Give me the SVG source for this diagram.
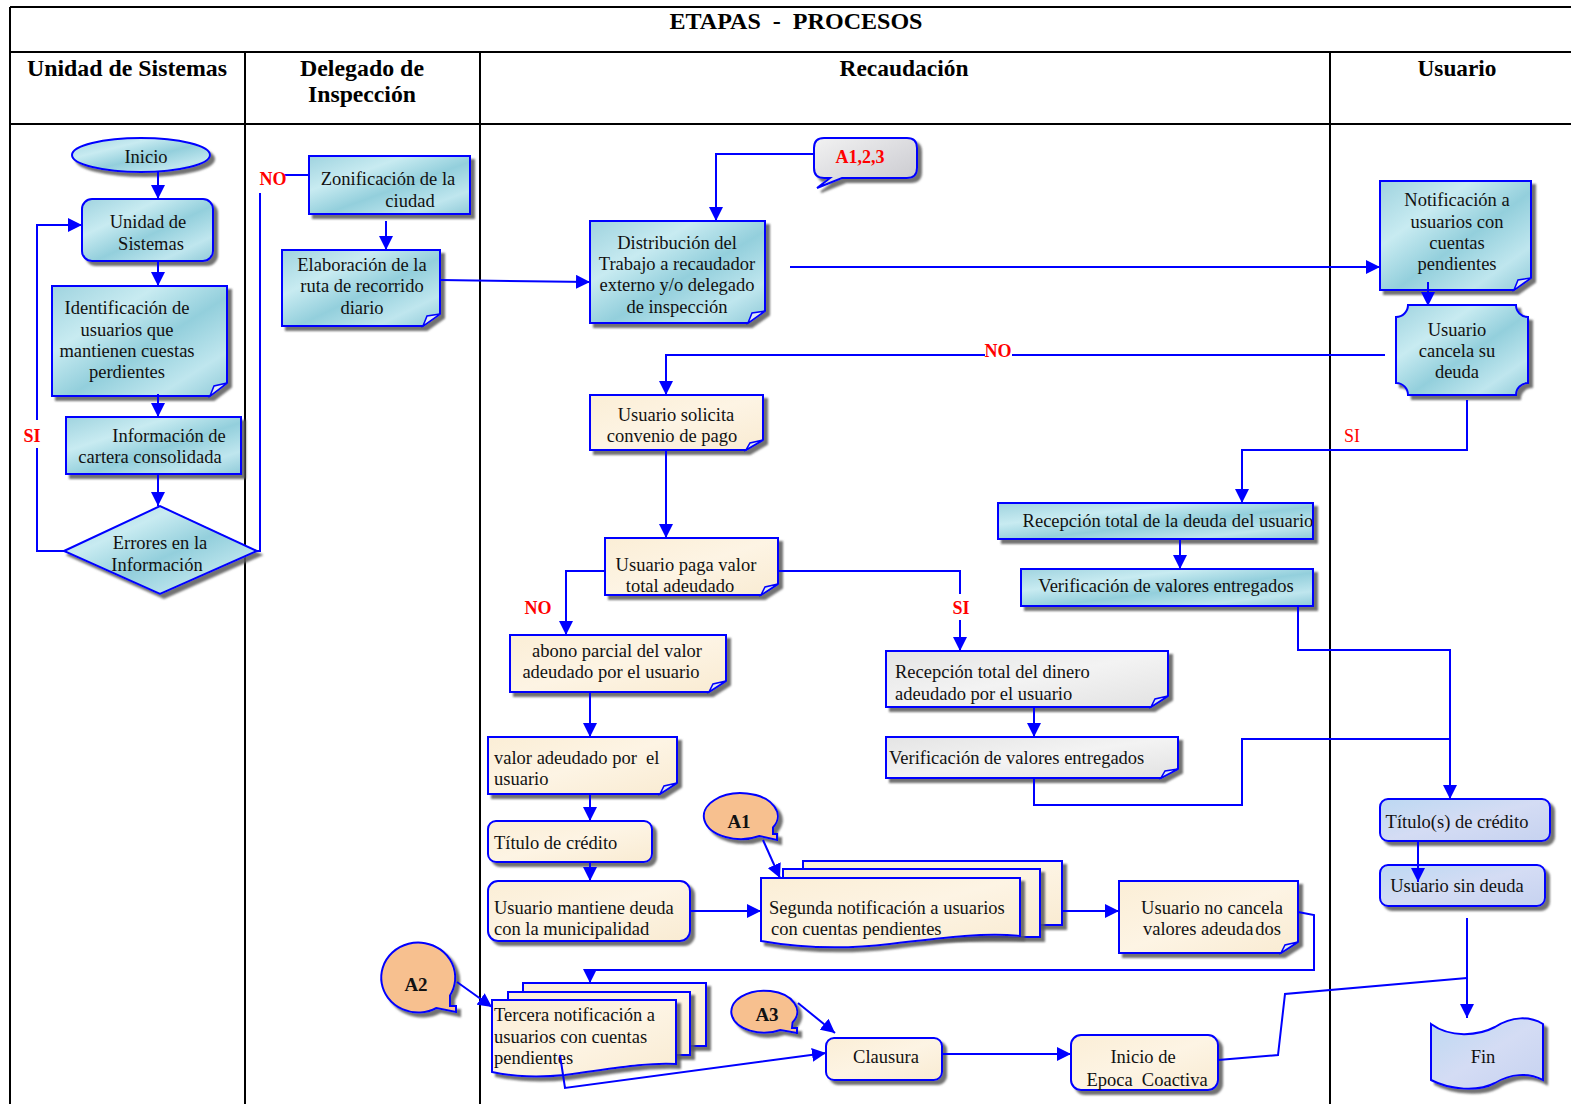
<svg xmlns="http://www.w3.org/2000/svg" width="1571" height="1104" viewBox="0 0 1571 1104">
<defs>
<style>
.tbl{stroke:#000;stroke-width:2;fill:none}
.hd{font-family:"Liberation Serif",serif;font-weight:bold;font-size:23.5px;fill:#000;text-anchor:middle}
.n{stroke:#0000ff;stroke-width:2;filter:url(#sh)}
.bl{fill:url(#gBlue)}
.cr{fill:url(#gCream)}
.gr{fill:url(#gGrey)}
.lv{fill:url(#gLav)}
.or{fill:#f7c08f}
.fold{fill:#dfe8f4;stroke:#0000ff;stroke-width:1.5}
.t{font-family:"Liberation Serif",serif;font-size:18.5px;fill:#111}
.c{text-anchor:middle}
.lb{font-family:"Liberation Serif",serif;font-size:18px;font-weight:bold;fill:#ff0000;text-anchor:middle}
.lbn{font-family:"Liberation Serif",serif;font-size:18px;fill:#ff0000;text-anchor:middle}
.cb{font-family:"Liberation Serif",serif;font-size:19px;font-weight:bold;fill:#111;text-anchor:middle}
.conn path{stroke:#0000ff;stroke-width:2;fill:none}
.ar{marker-end:url(#ah)}
</style>
<filter id="sh" x="-10%" y="-10%" width="130%" height="140%">
<feDropShadow dx="4" dy="4" stdDeviation="0.8" flood-color="#5a5a5a" flood-opacity="0.85"/>
</filter>
<linearGradient id="gBlue" x1="0" y1="0" x2="1" y2="1">
<stop offset="0" stop-color="#9fd3df"/>
<stop offset="0.3" stop-color="#c8ebf1"/>
<stop offset="0.55" stop-color="#93cfdc"/>
<stop offset="0.8" stop-color="#bfe6ee"/>
<stop offset="1" stop-color="#8fcad8"/>
</linearGradient>
<linearGradient id="gCream" x1="0" y1="0" x2="1" y2="1">
<stop offset="0" stop-color="#fbeed6"/>
<stop offset="0.5" stop-color="#fdf4e4"/>
<stop offset="1" stop-color="#f9ebd2"/>
</linearGradient>
<linearGradient id="gGrey" x1="0" y1="0" x2="1" y2="1">
<stop offset="0" stop-color="#e4e4e4"/>
<stop offset="0.5" stop-color="#f3f3f3"/>
<stop offset="1" stop-color="#e2e2e2"/>
</linearGradient>
<linearGradient id="gLav" x1="0" y1="0" x2="1" y2="1">
<stop offset="0" stop-color="#bcd8f2"/>
<stop offset="0.5" stop-color="#d4dcf4"/>
<stop offset="1" stop-color="#c6d2f0"/>
</linearGradient>
<linearGradient id="gCall" x1="0" y1="0" x2="1" y2="1">
<stop offset="0" stop-color="#f2f2f2"/>
<stop offset="0.6" stop-color="#d8d8dc"/>
<stop offset="1" stop-color="#c8c8cc"/>
</linearGradient>
<marker id="ah" markerUnits="userSpaceOnUse" markerWidth="14" markerHeight="14" refX="14" refY="7" orient="auto">
<path d="M0,0 L14,7 L0,14 Z" fill="#0000ff"/>
</marker>
</defs>
<rect width="1571" height="1104" fill="#fff"/>

<g id="table">
<path class="tbl" d="M10 7 H1571 M10 52 H1571 M10 124 H1571 M10 7 V1104 M245 52 V1104 M480 52 V1104 M1330 52 V1104"/>
<text class="hd" x="796" y="29" xml:space="preserve" textLength="253" lengthAdjust="spacingAndGlyphs">ETAPAS  -  PROCESOS</text>
<text class="hd" x="127" y="76" textLength="200" lengthAdjust="spacingAndGlyphs">Unidad de Sistemas</text>
<text class="hd" x="362" y="76" textLength="124" lengthAdjust="spacingAndGlyphs">Delegado de</text>
<text class="hd" x="362" y="102" textLength="108" lengthAdjust="spacingAndGlyphs">Inspección</text>
<text class="hd" x="904" y="76" textLength="129" lengthAdjust="spacingAndGlyphs">Recaudación</text>
<text class="hd" x="1457" y="76" textLength="79" lengthAdjust="spacingAndGlyphs">Usuario</text>
</g>

<g id="inicio"><ellipse class="n bl" cx="141" cy="155" rx="69" ry="17"/><text class="t c" x="146" y="163">Inicio</text></g>

<g id="unidad"><rect class="n bl" x="82" y="199" width="131" height="62" rx="10"/><text class="t c" x="148" y="228">Unidad de</text><text class="t c" x="151" y="250">Sistemas</text></g>

<g id="identificacion"><path class="n bl" d="M52 286 H227 V383 L210 396 H52 Z"/><path class="fold" d="M227 383 L210 396 L214 386 Z"/>
<text class="t c" x="127" y="314">Identificación de</text><text class="t c" x="127" y="336">usuarios que</text><text class="t c" x="127" y="357">mantienen cuestas</text><text class="t c" x="127" y="378">perdientes</text></g>

<g id="informacion"><rect class="n bl" x="66" y="417" width="175" height="57"/><text class="t c" x="169" y="442">Información de</text><text class="t c" x="150" y="463">cartera consolidada</text></g>

<g id="errores"><polygon class="n bl" points="64,551 160,506 257,551 160,594"/><text class="t c" x="160" y="549">Errores en la</text><text class="t c" x="157" y="571">Información</text></g>

<g id="zonificacion"><rect class="n bl" x="309" y="156" width="161" height="58"/><text class="t c" x="388" y="185">Zonificación de la</text><text class="t c" x="410" y="207">ciudad</text></g>

<g id="elaboracion"><path class="n bl" d="M282 250 H440 V314 L423 326 H282 Z"/><path class="fold" d="M440 314 L423 326 L427 316 Z"/>
<text class="t c" x="362" y="271">Elaboración de la</text><text class="t c" x="362" y="292">ruta de recorrido</text><text class="t c" x="362" y="314">diario</text></g>

<g id="callout-a123"><path class="n" fill="url(#gCall)" d="M824 138 H907 Q917 138 917 148 V168 Q917 178 907 178 H842 L817 188 L830 178 H824 Q814 178 814 168 V148 Q814 138 824 138 Z"/><text class="lb" x="860" y="163">A1,2,3</text></g>

<g id="distribucion"><path class="n bl" d="M590 221 H765 V311 L748 323 H590 Z"/><path class="fold" d="M765 311 L748 323 L752 313 Z"/>
<text class="t c" x="677" y="249">Distribución del</text><text class="t c" x="677" y="270">Trabajo a recaudador</text><text class="t c" x="677" y="291">externo y/o delegado</text><text class="t c" x="677" y="313">de inspección</text></g>

<g id="notificacion"><path class="n bl" d="M1380 181 H1531 V278 L1514 290 H1380 Z"/><path class="fold" d="M1531 278 L1514 290 L1518 280 Z"/>
<text class="t c" x="1457" y="206">Notificación a</text><text class="t c" x="1457" y="228">usuarios con</text><text class="t c" x="1457" y="249">cuentas</text><text class="t c" x="1457" y="270">pendientes</text></g>

<g id="cancela"><path class="n bl" d="M1408 305 H1516 A12 12 0 0 0 1528 317 V383 A12 12 0 0 0 1516 395 H1408 A12 12 0 0 0 1396 383 V317 A12 12 0 0 0 1408 305 Z"/>
<text class="t c" x="1457" y="336">Usuario</text><text class="t c" x="1457" y="357">cancela su</text><text class="t c" x="1457" y="378">deuda</text></g>

<g id="solicita"><path class="n cr" d="M590 395 H763 V440 L746 450 H590 Z"/><path class="fold" d="M763 440 L746 450 L750 443 Z"/>
<text class="t c" x="676" y="421">Usuario solicita</text><text class="t c" x="672" y="442">convenio de pago</text></g>

<g id="paga"><path class="n cr" d="M605 538 H778 V584 L761 595 H605 Z"/><path class="fold" d="M778 584 L761 595 L765 587 Z"/>
<text class="t c" x="686" y="571">Usuario paga valor</text><text class="t c" x="680" y="592">total adeudado</text></g>

<g id="abono"><path class="n cr" d="M510 635 H726 V681 L709 692 H510 Z"/><path class="fold" d="M726 681 L709 692 L713 684 Z"/>
<text class="t c" x="617" y="657">abono parcial del valor</text><text class="t c" x="611" y="678">adeudado por el usuario</text></g>

<g id="valor"><path class="n cr" d="M488 737 H677 V783 L660 794 H488 Z"/><path class="fold" d="M677 783 L660 794 L664 786 Z"/>
<text class="t" x="494" y="764" xml:space="preserve">valor adeudado por  el</text><text class="t" x="494" y="785">usuario</text></g>

<g id="titulo"><rect class="n cr" x="488" y="821" width="164" height="41" rx="8"/><text class="t" x="494" y="849">Título de crédito</text></g>

<g id="mantiene"><rect class="n cr" x="488" y="881" width="202" height="60" rx="10"/><text class="t" x="494" y="914">Usuario mantiene deuda</text><text class="t" x="494" y="935">con la municipalidad</text></g>

<g id="segunda"><rect class="n cr" x="803" y="861" width="259" height="64"/><rect class="n cr" x="783" y="869" width="257" height="68"/>
<path class="n cr" d="M761 878 H1020 V936 C985 932 940 938 890 944 C840 950 795 947 761 941 Z"/>
<text class="t" x="769" y="914">Segunda notificación a usuarios</text><text class="t" x="771" y="935">con cuentas pendientes</text></g>

<g id="callout-a1"><path class="n or" d="M759.5 836 A37 23 0 1 1 773 827.5 L773 834 L777 834 L777 840 Z"/><text class="cb" x="739" y="828">A1</text></g>

<g id="nocancela"><path class="n cr" d="M1119 881 H1298 V942 L1281 953 H1119 Z"/><path class="fold" d="M1298 942 L1281 953 L1285 945 Z"/>
<text class="t c" x="1212" y="914">Usuario no cancela</text><text class="t c" x="1212" y="935">valores adeuda<tspan dx="2">dos</tspan></text></g>

<g id="recepcion-dinero"><path class="n gr" d="M886 651 H1168 V696 L1151 707 H886 Z"/><path class="fold" d="M1168 696 L1151 707 L1155 699 Z"/>
<text class="t" x="895" y="678">Recepción total del dinero</text><text class="t" x="895" y="700">adeudado por el usuario</text></g>

<g id="verificacion-gris"><path class="n gr" d="M886 737 H1178 V769 L1161 778 H886 Z"/><path class="fold" d="M1178 769 L1161 778 L1165 771 Z"/>
<text class="t" x="889" y="764">Verificación de valores entregados</text></g>

<g id="recepcion-deuda"><rect class="n bl" x="998" y="503" width="315" height="36"/><text class="t c" x="1168" y="527">Recepción total de la deuda del usuario</text></g>

<g id="verificacion-azul"><rect class="n bl" x="1021" y="569" width="292" height="37"/><text class="t c" x="1166" y="592">Verificación de valores entregados</text></g>

<g id="titulos"><rect class="n lv" x="1380" y="799" width="170" height="42" rx="8"/><text class="t c" x="1457" y="828">Título(s) de crédito</text></g>

<g id="sindeuda"><rect class="n lv" x="1380" y="865" width="165" height="41" rx="8"/><text class="t c" x="1457" y="892">Usuario sin deuda</text></g>

<g id="fin"><path class="n lv" d="M1431 1024 C1450 1038 1478 1036 1495 1027 C1512 1016 1530 1016 1543 1024 V1080 C1528 1072 1510 1074 1495 1083 C1478 1092 1450 1090 1431 1080 Z"/><text class="t c" x="1483" y="1063">Fin</text></g>

<g id="callout-a2"><path class="n or" d="M436.5 1008 A37 35 0 1 1 450 995.5 L450 1006 L456 1006 L456 1012 Z"/><text class="cb" x="416" y="991">A2</text></g>

<g id="tercera"><rect class="n cr" x="523" y="983" width="183" height="63"/><rect class="n cr" x="508" y="992" width="182" height="63"/>
<path class="n cr" d="M492 1000 H676 V1064 C645 1062 605 1070 565 1075 C535 1078 510 1076 492 1072 Z"/>
<text class="t" x="494" y="1021">Tercera notificación a</text><text class="t" x="494" y="1043">usuarios con cuentas</text><text class="t" x="494" y="1064">pendientes</text></g>

<g id="callout-a3"><path class="n or" d="M780.5 1030 A33 21 0 1 1 792.6 1022.5 L792 1028 L797 1028 L797 1033 Z"/><text class="cb" x="767" y="1021">A3</text></g>

<g id="clausura"><rect class="n cr" x="826" y="1038" width="116" height="42" rx="8"/><text class="t c" x="886" y="1063">Clausura</text></g>

<g id="epoca"><rect class="n cr" x="1071" y="1035" width="147" height="55" rx="10"/><text class="t c" x="1143" y="1063">Inicio de</text><text class="t c" x="1147" y="1086" xml:space="preserve">Epoca  Coactiva</text></g>

<g class="conn" id="connectors">
<path class="ar" d="M158 172 V199"/>
<path class="ar" d="M158 261 V286"/>
<path class="ar" d="M158 394 V417"/>
<path class="ar" d="M158 474 V506"/>
<path d="M64 551 H37 V448"/>
<path class="ar" d="M37 420 V225 H82"/>
<path d="M257 551 H260 V193"/>
<path d="M284 175 H309"/>
<path class="ar" d="M386 221 V250"/>
<path class="ar" d="M440 280 L590 282"/>
<path class="ar" d="M814 154 H716 V221"/>
<path class="ar" d="M790 267 H1380"/>
<path class="ar" d="M1428 282 V306"/>
<path d="M1385 355 H1012"/>
<path class="ar" d="M985 355 H666 V395"/>
<path class="ar" d="M1467 400 V450 H1242 V503"/>
<path class="ar" d="M1180 539 V569"/>
<path class="ar" d="M1298 606 V650 H1450 V799"/>
<path d="M1034 778 V805 H1242 V739 H1450"/>
<path class="ar" d="M1034 707 V737"/>
<path class="ar" d="M1418 841 V882"/>
<path class="ar" d="M1467 918 V1018"/>
<path d="M1218 1060 L1278 1055 L1285 994 L1467 978"/>
<path class="ar" d="M666 450 V538"/>
<path class="ar" d="M605 571 H566 V635"/>
<path d="M778 571 H960 V594"/>
<path class="ar" d="M960 620 V651"/>
<path class="ar" d="M590 692 V737"/>
<path class="ar" d="M590 794 V821"/>
<path class="ar" d="M590 862 V881"/>
<path class="ar" d="M690 911 H761"/>
<path class="ar" d="M763 840 L780 878"/>
<path class="ar" d="M1062 911 H1119"/>
<path class="ar" d="M1298 912 L1314 915 V970 H590 V983"/>
<path class="ar" d="M457 982 L492 1007"/>
<path class="ar" d="M798 1003 L835 1033"/>
<path class="ar" d="M560 1055 L565 1088 L826 1053"/>
<path class="ar" d="M942 1054 H1071"/>
<text class="lb" x="32" y="442">SI</text>
<text class="lb" x="273" y="185">NO</text>
<text class="lb" x="998" y="357">NO</text>
<text class="lbn" x="1352" y="442">SI</text>
<text class="lb" x="538" y="614">NO</text>
<text class="lb" x="961" y="614">SI</text>
</g>
</svg>
